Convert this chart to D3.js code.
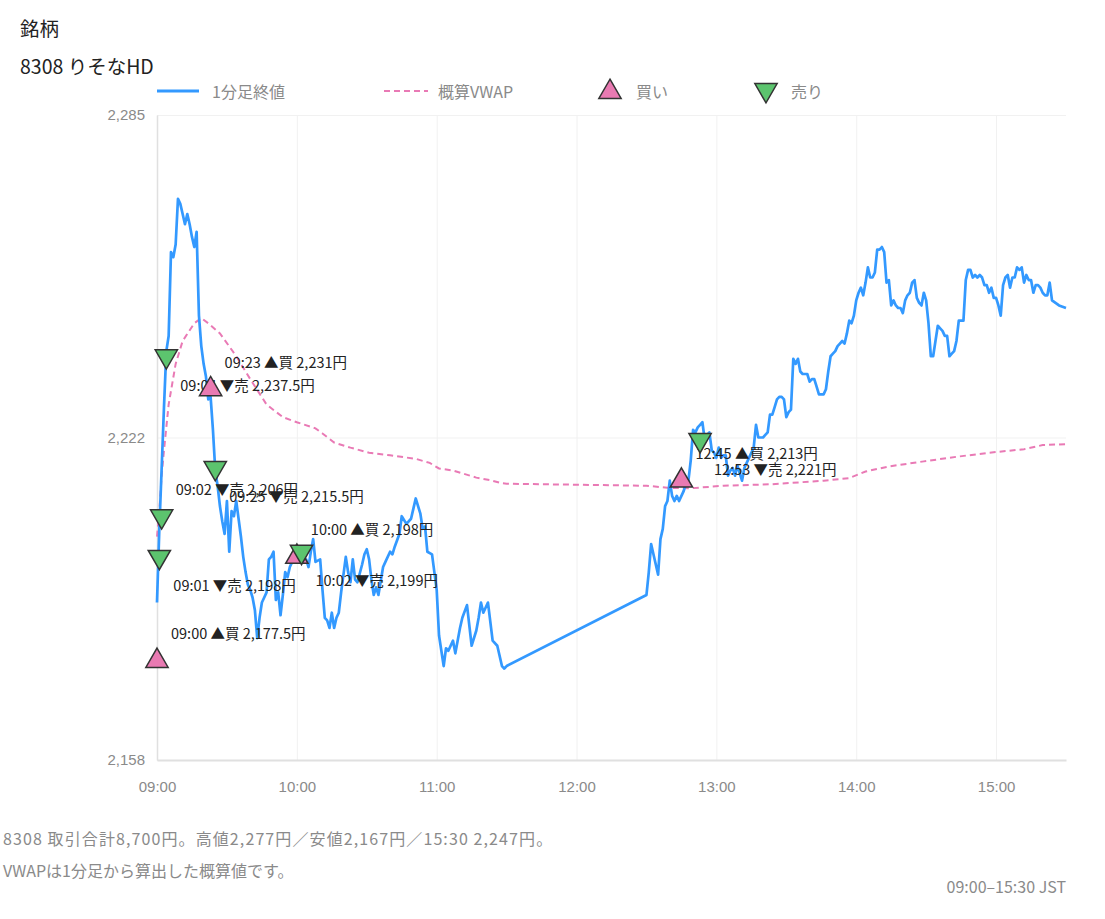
<!DOCTYPE html>
<html><head><meta charset="utf-8">
<script src="https://cdn.jsdelivr.net/npm/d3@7"></script>
<style>
html,body{margin:0;padding:0;background:#fff;}
svg{display:block;font-family:"Noto Sans CJK JP","Noto Sans",sans-serif;}
</style></head>
<body>
<svg id="chart" width="1105" height="919"></svg>
<script>
// ---- data ----
const titleText = "銘柄";
const subtitleText = "8308 りそなHD";
const legendLabels = ["1分足終値", "概算VWAP", "買い", "売り"];

const closeTimes = [
"09:00","09:01","09:02","09:03","09:04","09:05","09:06","09:07","09:08","09:09",
"09:10","09:11","09:12","09:13","09:14","09:15","09:16","09:17","09:18","09:19",
"09:20","09:21","09:22","09:23","09:24","09:25","09:26","09:27","09:28","09:29",
"09:30","09:31","09:32","09:33","09:34","09:35","09:36","09:37","09:38","09:39",
"09:40","09:41","09:42","09:43","09:44","09:45","09:46","09:47","09:48","09:49",
"09:50","09:51","09:52","09:53","09:54","09:55","09:56","09:57","09:58","09:59",
"10:00","10:01","10:02","10:04","10:05","10:06","10:07","10:08","10:10","10:11",
"10:12","10:13","10:14","10:15","10:16","10:17","10:18","10:19","10:21","10:22",
"10:23","10:24","10:25","10:26","10:28","10:29","10:30","10:31","10:32","10:33",
"10:34","10:35","10:37","10:38","10:40","10:41","10:42","10:44","10:45","10:47",
"10:49","10:50","10:51","10:53","10:54","10:55","10:56","10:58","10:59","11:00",
"11:01","11:03","11:04","11:05","11:07","11:08","11:10","11:11","11:13","11:15",
"11:17","11:18","11:19","11:20","11:22","11:24","11:26","11:28","11:29","11:30",
"12:30","12:31","12:32","12:33","12:34","12:35","12:36","12:37","12:38","12:39",
"12:40","12:41","12:42","12:43","12:44","12:45","12:46","12:47","12:48","12:49",
"12:50","12:51","12:52","12:53","12:54","12:55","12:56","12:57","12:58","12:59",
"13:00","13:01","13:02","13:03","13:04","13:05","13:06","13:07","13:08","13:09",
"13:10","13:11","13:12","13:13","13:14","13:15","13:16","13:17","13:18","13:19",
"13:20","13:21","13:22","13:23","13:24","13:25","13:26","13:27","13:28","13:29",
"13:30","13:31","13:32","13:33","13:34","13:35","13:36","13:37","13:38","13:39",
"13:40","13:41","13:42","13:43","13:44","13:45","13:46","13:47","13:48","13:49",
"13:50","13:51","13:52","13:53","13:54","13:55","13:56","13:57","13:58","13:59",
"14:00","14:01","14:02","14:03","14:04","14:05","14:06","14:07","14:08","14:09",
"14:10","14:11","14:12","14:13","14:14","14:15","14:16","14:17","14:18","14:19",
"14:20","14:21","14:22","14:23","14:24","14:25","14:26","14:27","14:28","14:29",
"14:30","14:31","14:32","14:33","14:34","14:35","14:36","14:37","14:38","14:39",
"14:40","14:41","14:42","14:43","14:44","14:45","14:46","14:47","14:48","14:49",
"14:50","14:51","14:52","14:53","14:54","14:55","14:56","14:57","14:58","14:59",
"15:00","15:01","15:02","15:03","15:04","15:05","15:06","15:07","15:08","15:09",
"15:10","15:11","15:12","15:13","15:14","15:15","15:16","15:17","15:18","15:19",
"15:20","15:21","15:22","15:23","15:24","15:27","15:30"
];
const closeValues = [
2189,2203.5,2215.5,2227.5,2238.5,2241.5,2258,2257,2259.5,2268.5,
2267.5,2265.5,2263.5,2265.5,2263.5,2261,2259,2262,2245.5,2239.5,
2236,2233.5,2229,2229.5,2223,2215,2212,2208,2205,2202.5,
2209,2199,2207,2206,2209,2205.5,2202,2198,2195,2192.5,
2191.5,2190,2187.5,2182,2186,2189,2190,2191,2197.5,2198,
2199,2189.5,2191,2186.5,2190.5,2195,2194,2196,2197,2199.5,
2200,2199,2198,2197.5,2196,2199,2201.5,2197,2197.5,2191.5,
2186,2185.5,2184,2187,2184,2186,2187,2191,2198,2195,
2193,2197.5,2193.5,2193,2196.5,2198.5,2199.5,2197.5,2193.5,2190.5,
2192,2190.5,2196,2197,2199,2198.5,2200,2202.5,2206,2204.5,
2205.5,2207.5,2209.5,2206.5,2203.5,2204,2199,2198.5,2195,2191.5,
2182.5,2176.5,2180,2179.5,2181.5,2179,2184,2186,2188.5,2180.5,
2183.5,2186,2189,2187,2189,2181.5,2180.5,2176.5,2176,2176.5,
2190.5,2195,2200.5,2198.5,2196.5,2194.5,2201.5,2203.5,2208,2209,
2213,2210,2209,2210,2209,2210,2211,2212.5,2213,2217,
2223,2222.5,2223.5,2224,2224.5,2221,2222,2222.5,2219,2218.5,
2217.5,2219.5,2217.5,2218,2218,2214,2215,2215.5,2214,2216,
2214.5,2213,2215.5,2216.5,2217.5,2218.5,2219.5,2224,2221.5,2221.5,
2221.5,2222,2222.5,2226,2226,2227.5,2229,2229.5,2229.5,2229,
2225.5,2226.5,2227,2237,2236,2237,2234.5,2234,2234,2234,
2232.5,2233,2233,2231.5,2230,2230,2230,2231,2234.5,2237.5,
2238,2238.5,2239.5,2240,2240.5,2240,2242,2244.5,2244,2245.5,
2248.5,2250,2251,2249.5,2252,2255,2253,2253,2254,2258.5,
2258.5,2259,2258,2252,2252.5,2247.5,2248.5,2247.5,2247,2247,
2246,2248.5,2249.5,2250,2252,2252.5,2249,2248,2247.5,2250,
2248.5,2244,2237.5,2237.5,2240.5,2243.5,2243,2242.5,2241.5,2241.5,
2237.5,2238,2238.5,2240.5,2244.5,2244.5,2244.5,2252.5,2254.5,2254.5,
2253,2253.5,2253,2253.5,2253,2251.5,2251.5,2250,2251,2249,
2249,2247.5,2245.5,2251.5,2253,2253.5,2251,2253,2253,2255,
2254.5,2255,2252,2253.5,2252.5,2252.5,2250,2251.5,2251.5,2251,
2250,2249.5,2249.5,2252,2248.5,2247.5,2247
];

const vwapTimes = ["09:00","09:01","09:02","09:03","09:05","09:08","09:11","09:16","09:19","09:22",
"09:27","09:34","09:40","09:47","09:54","10:00","10:08","10:11","10:16","10:23",
"10:31","10:40","10:51","10:57","11:01","11:07","11:17","11:23","11:28","11:30",
"12:30","12:39","12:49","13:03","13:24","13:46","13:57","14:04","14:14","14:29",
"14:43","14:57","15:12","15:20","15:30"];
const vwapValues = [2202,2207,2214,2219,2228,2236,2240.5,2244,2245,2244,
2242,2237.5,2233,2228,2225.5,2224.5,2223.3,2222.3,2220.5,2219.5,
2218.5,2218,2217.3,2216.5,2215.4,2215,2213.6,2213.1,2212.5,2212.4,
2212,2211.6,2211.5,2212,2212.3,2213,2213.5,2214.8,2215.8,2216.8,
2217.7,2218.5,2219.2,2220,2220.2];

const tradeTimes  = ["09:00","09:01","09:02","09:04","09:23","09:25","10:00","10:02","12:45","12:53"];
const tradeSides  = ["buy","sell","sell","sell","buy","sell","buy","sell","buy","sell"];
const tradePrices = [2177.5,2198,2206,2237.5,2231,2215.5,2198,2199,2213,2221];

const yDomain = [2158, 2285];
const yTickValues = [2158, 2221.5, 2285];
const xTickLabels = ["09:00","10:00","11:00","12:00","13:00","14:00","15:00"];
const sessionStart = "09:00", sessionEnd = "15:30";

const footerLine1 = "8308 取引合計8,700円。高値2,277円／安値2,167円／15:30 2,247円。";
const footerLine2 = "VWAPは1分足から算出した概算値です。";
const footerRight = "09:00–15:30 JST";

// ---- drawing ----
const C = {line:"#3399ff", vwap:"#e97ab5", buy:"#e97ab2", sell:"#5cc46e", stroke:"#333", grid:"#f1f1f1", axis:"#e0e0e0", tick:"#8a8a8a", text:"#222"};
const toMin = s => { const [h,m] = s.split(":").map(Number); return h*60+m; };
const L = 157, R = 1066, T = 115, B = 760;
const x = d3.scaleLinear().domain([toMin(sessionStart), toMin(sessionEnd)]).range([L, R]);
const y = d3.scaleLinear().domain(yDomain).range([B, T]);
const svg = d3.select("#chart");

svg.append("text").attr("x",20).attr("y",27).attr("dominant-baseline","central")
  .attr("font-size",19.5).attr("fill",C.text).text(titleText);
svg.append("text").attr("x",20).attr("y",65).attr("dominant-baseline","central")
  .attr("font-size",19.5).attr("fill",C.text).text(subtitleText);

// grid
const gx = d3.axisBottom(x).tickValues(xTickLabels.map(toMin)).tickSize(-(B-T)).tickFormat("");
svg.append("g").attr("transform",`translate(0,${B})`).call(gx)
  .call(g=>g.select(".domain").remove())
  .call(g=>g.selectAll("line").attr("stroke",C.grid));
const gy = d3.axisLeft(y).tickValues(yTickValues).tickSize(-(R-L)).tickFormat("");
svg.append("g").attr("transform",`translate(${L},0)`).call(gy)
  .call(g=>g.select(".domain").remove())
  .call(g=>g.selectAll("line").attr("stroke",C.grid));

// axes
const ax = d3.axisBottom(x).tickValues(xTickLabels.map(toMin)).tickSize(0).tickPadding(21)
  .tickFormat((d,i)=>xTickLabels[i]);
svg.append("g").attr("transform",`translate(0,${B})`).call(ax)
  .call(g=>g.select(".domain").attr("stroke",C.axis).attr("stroke-width",2))
  .call(g=>g.selectAll("text").attr("fill",C.tick).attr("font-size",15).attr("font-family",null));
const ay = d3.axisLeft(y).tickValues(yTickValues).tickSize(0).tickPadding(12)
  .tickFormat(d3.format(",.0f"));
svg.append("g").attr("transform",`translate(${L},0)`).call(ay)
  .call(g=>g.select(".domain").attr("stroke",C.axis).attr("stroke-width",1.5))
  .call(g=>g.selectAll("text").attr("fill",C.tick).attr("font-size",15).attr("font-family",null));

// lines
const closeData = closeTimes.map((t,i)=>({m:toMin(t), v:closeValues[i]}));
const vwapData = vwapTimes.map((t,i)=>({m:toMin(t), v:vwapValues[i]}));
const lineGen = d3.line().x(d=>x(d.m)).y(d=>y(d.v));
svg.append("path").datum(vwapData).attr("d",lineGen).attr("fill","none")
  .attr("stroke",C.vwap).attr("stroke-width",2).attr("stroke-dasharray","6,4");
svg.append("path").datum(closeData).attr("d",lineGen).attr("fill","none")
  .attr("stroke",C.line).attr("stroke-width",2.7).attr("stroke-linejoin","round");

// trades
const trades = tradeTimes.map((t,i)=>({t, m:toMin(t), side:tradeSides[i], p:tradePrices[i], i}));
const fmt = d3.format(",");
svg.append("g").selectAll("text").data(trades).join("text")
  .attr("x",d=>x(d.m)+14).attr("y",d=>y(d.p)+(d.i%2===0?-28:28))
  .attr("dominant-baseline","central").attr("font-size",14.5).attr("fill",C.text)
  .text(d=>`${d.t} ${d.side==="buy"?"▲買":"▼売"} ${fmt(d.p)}円`);
const tri = d3.symbol(d3.symbolTriangle, 215);
svg.append("g").selectAll("path").data(trades).join("path")
  .attr("d",tri)
  .attr("transform",d=>`translate(${x(d.m)},${y(d.p)})${d.side==="sell"?" rotate(180)":""}`)
  .attr("fill",d=>d.side==="buy"?C.buy:C.sell).attr("stroke",C.stroke).attr("stroke-width",1.5);

// legend
const lg = svg.append("g").attr("font-size",16).attr("fill",C.tick);
const ly = 91;
lg.append("line").attr("x1",157).attr("x2",199).attr("y1",ly).attr("y2",ly).attr("stroke",C.line).attr("stroke-width",3);
lg.append("text").attr("x",212).attr("y",ly).attr("dominant-baseline","central").text(legendLabels[0]);
lg.append("line").attr("x1",384).attr("x2",428).attr("y1",ly).attr("y2",ly).attr("stroke",C.vwap).attr("stroke-width",2).attr("stroke-dasharray","6,4");
lg.append("text").attr("x",438).attr("y",ly).attr("dominant-baseline","central").text(legendLabels[1]);
lg.append("path").attr("d",tri).attr("transform",`translate(610,${ly+1})`).attr("fill",C.buy).attr("stroke",C.stroke).attr("stroke-width",1.5);
lg.append("text").attr("x",636).attr("y",ly).attr("dominant-baseline","central").text(legendLabels[2]);
lg.append("path").attr("d",tri).attr("transform",`translate(766,${ly-1}) rotate(180)`).attr("fill",C.sell).attr("stroke",C.stroke).attr("stroke-width",1.5);
lg.append("text").attr("x",791).attr("y",ly).attr("dominant-baseline","central").text(legendLabels[3]);

// footer
const ft = svg.append("g").attr("font-size",16).attr("fill",C.tick);
ft.append("text").attr("x",3).attr("y",838).attr("dominant-baseline","central").attr("letter-spacing",1.1).text(footerLine1);
ft.append("text").attr("x",3).attr("y",870).attr("dominant-baseline","central").text(footerLine2);
ft.append("text").attr("x",1066).attr("y",886).attr("text-anchor","end").attr("dominant-baseline","central").text(footerRight);
</script>
</body></html>
